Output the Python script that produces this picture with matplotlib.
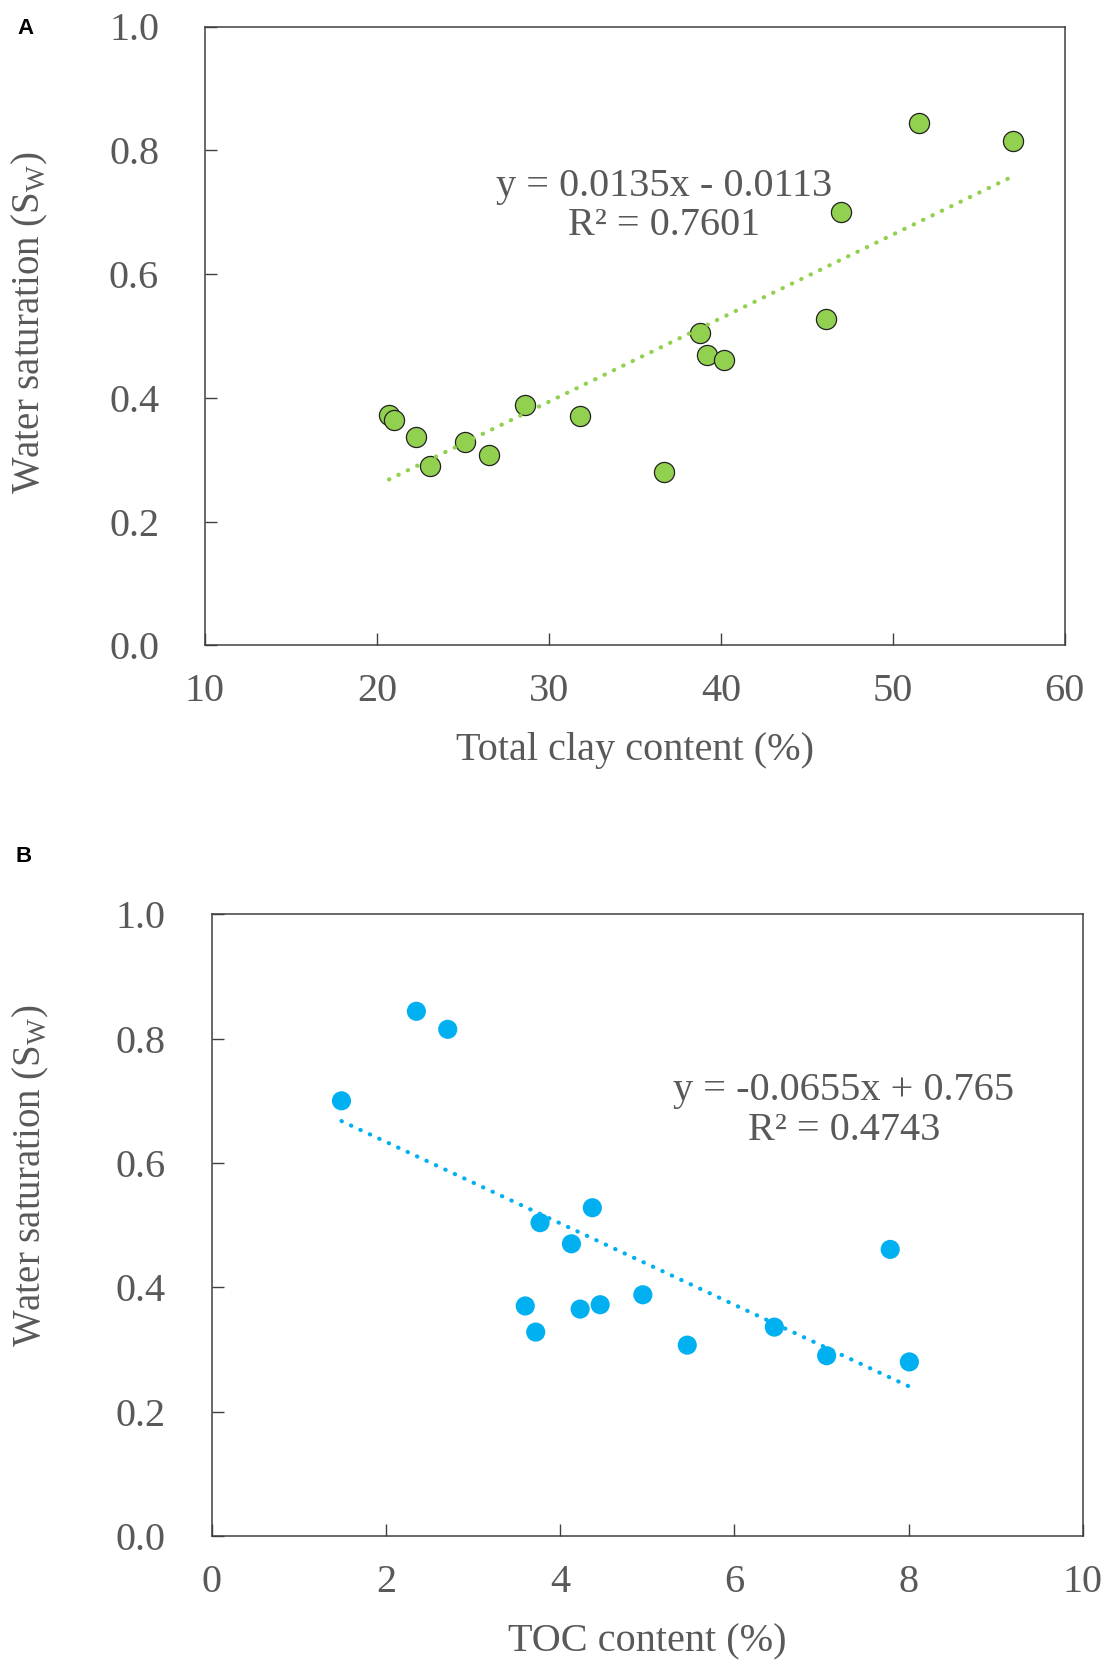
import matplotlib
matplotlib.use('Agg')

import numpy as np
import matplotlib.pyplot as plt

# Water saturation of the 16 samples (shared by both panels)
sw = [0.372, 0.365, 0.336, 0.290, 0.328, 0.307, 0.388, 0.370,
      0.280, 0.504, 0.470, 0.461, 0.528, 0.700, 0.844, 0.815]
clay = [20.7, 21.0, 22.3, 23.1, 25.1, 26.5, 28.6, 31.8,
        36.7, 38.8, 39.2, 40.2, 46.1, 47.0, 51.5, 57.0]
toc = [4.46, 4.23, 6.46, 7.06, 3.72, 5.46, 4.95, 3.60,
       8.01, 3.77, 4.13, 7.79, 4.37, 1.49, 2.35, 2.71]

# linear fits as printed on the chart
fit_a = (0.0135, -0.0113)
fit_b = (-0.0655, 0.765)
eq_a = "y = 0.0135x - 0.0113\nR² = 0.7601"
eq_b = "y = -0.0655x + 0.765\nR² = 0.4743"

green = "#92D050"
blue = "#00B0F0"
grey = "#595959"
FS = 29

plt.rcParams['font.family'] = ['Liberation Serif', 'DejaVu Serif']
plt.rcParams['mathtext.fontset'] = 'custom'
plt.rcParams['mathtext.rm'] = 'Liberation Serif'

fig = plt.figure(figsize=(11.05, 16.64), dpi=100)
W, H = 1105, 1664


def make_axes(left, top, right, bottom):
    return fig.add_axes([left / W, 1 - bottom / H, (right - left) / W, (bottom - top) / H])


def style(ax, xlim, xticks, xlabel):
    ax.set_xlim(*xlim)
    ax.set_ylim(0, 1.0)
    ax.set_xticks(xticks)
    ax.set_yticks(np.arange(0, 1.01, 0.2))
    ax.set_yticklabels([f"{v:.1f}" for v in np.arange(0, 1.01, 0.2)])
    ax.set_xticklabels([str(v) for v in xticks])
    for s in ax.spines.values():
        s.set_color("#404040")
        s.set_linewidth(1.1)
    ax.tick_params(direction='in', length=8.5, width=1.0, color="#404040",
                   labelsize=FS, labelcolor=grey)
    ax.tick_params(axis='y', pad=33)
    ax.tick_params(axis='x', pad=20)
    ax.set_xlabel(xlabel, fontsize=FS, color=grey)
    ax.set_ylabel(r"Water saturation (S$_\mathregular{W}$)", fontsize=28, color=grey)


# ---- Panel A
ax1 = make_axes(205, 26.5, 1064.7, 645.4)
ax1.scatter(clay, sw, s=210, c=green, edgecolors="#222222", linewidths=0.9, zorder=3)
xa = np.array([min(clay), max(clay)])
ax1.plot(xa, fit_a[0] * xa + fit_a[1], color=green, lw=3,
         linestyle=(0, (0.1, 2.4)), dash_capstyle='round', zorder=4)
ax1.text(36.7, 0.71, eq_a, ha='center', va='center', fontsize=FS,
         color=grey, linespacing=1.1)
style(ax1, (10, 60), [10, 20, 30, 40, 50, 60], "Total clay content (%)")
ax1.xaxis.set_label_coords(0.5, -0.14)
ax1.yaxis.set_label_coords(-0.18, 0.522)

# ---- Panel B
ax2 = make_axes(211.7, 914.3, 1082.7, 1536)
ax2.scatter(toc, sw, s=190, c=blue, edgecolors='none', zorder=3)
xb = np.array([min(toc), max(toc)])
ax2.plot(xb, fit_b[0] * xb + fit_b[1], color=blue, lw=3,
         linestyle=(0, (0.1, 2.4)), dash_capstyle='round', zorder=4)
ax2.text(7.26, 0.684, eq_b, ha='center', va='center', fontsize=FS,
         color=grey, linespacing=1.1)
style(ax2, (0, 10), [0, 2, 4, 6, 8, 10], "TOC content (%)")
ax2.xaxis.set_label_coords(0.5, -0.14)
ax2.yaxis.set_label_coords(-0.185, 0.58)

# panel letters
fig.text(25 / W, 1 - 28 / H, "A", family='Liberation Sans', weight='bold',
         fontsize=16, ha='center', va='center', color='black')
fig.text(24 / W, 1 - 857 / H, "B", family='Liberation Sans', weight='bold',
         fontsize=16, ha='center', va='center', color='black')

plt.savefig("out.png", dpi=100)
plt.close()
